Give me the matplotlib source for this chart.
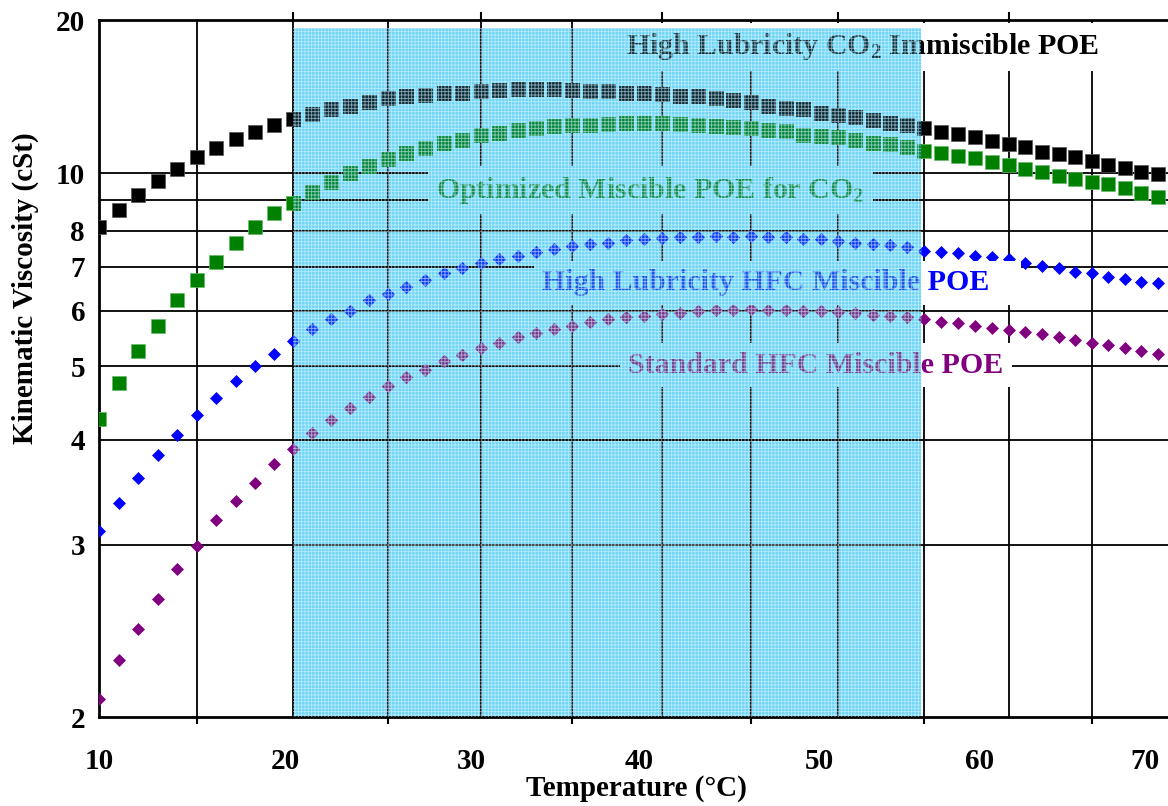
import numpy as np
import matplotlib
matplotlib.use("Agg")
import matplotlib.pyplot as plt

# temperatures (deg C), one reading per degree
temps = list(range(10, 70))

# kinematic viscosity (cSt)
co2_immiscible = [8.1, 8.65, 9.19, 9.72, 10.19, 10.71, 11.12, 11.56, 11.9, 12.27,
                  12.6, 12.87, 13.16, 13.34, 13.58, 13.78, 13.9, 14.0, 14.13, 14.13,
                  14.27, 14.33, 14.4, 14.4, 14.4, 14.33, 14.27, 14.27, 14.13, 14.13,
                  14.07, 13.95, 13.9, 13.78, 13.67, 13.55, 13.34, 13.2, 13.16, 12.92,
                  12.82, 12.71, 12.54, 12.38, 12.27, 12.11, 11.9, 11.8, 11.66, 11.46,
                  11.31, 11.17, 10.93, 10.84, 10.71, 10.54, 10.37, 10.24, 10.06, 9.98]
co2_miscible = [4.26, 4.74, 5.25, 5.71, 6.22, 6.67, 7.13, 7.65, 8.1, 8.55,
                8.9, 9.3, 9.68, 10.02, 10.32, 10.63, 10.89, 11.12, 11.36, 11.51,
                11.75, 11.85, 12.0, 12.11, 12.22, 12.27, 12.27, 12.33, 12.38, 12.38,
                12.38, 12.33, 12.27, 12.22, 12.16, 12.11, 12.0, 11.95, 11.75, 11.7,
                11.66, 11.51, 11.36, 11.31, 11.17, 10.97, 10.89, 10.76, 10.67, 10.5,
                10.37, 10.19, 10.06, 9.91, 9.79, 9.68, 9.57, 9.42, 9.26, 9.11]
hfc_high_lub = [3.11, 3.35, 3.59, 3.83, 4.06, 4.3, 4.53, 4.77, 5.0, 5.21,
                5.43, 5.65, 5.84, 6.0, 6.22, 6.37, 6.52, 6.69, 6.86, 6.98,
                7.1, 7.21, 7.29, 7.39, 7.47, 7.56, 7.62, 7.65, 7.71, 7.74,
                7.79, 7.82, 7.82, 7.85, 7.82, 7.85, 7.82, 7.8, 7.76, 7.74,
                7.68, 7.65, 7.62, 7.59, 7.53, 7.42, 7.39, 7.37, 7.29, 7.26,
                7.21, 7.1, 7.02, 6.98, 6.88, 6.86, 6.76, 6.71, 6.64, 6.6]
hfc_standard = [2.08, 2.27, 2.44, 2.62, 2.82, 2.99, 3.2, 3.37, 3.54, 3.73,
                3.9, 4.08, 4.24, 4.4, 4.54, 4.7, 4.83, 4.95, 5.08, 5.19,
                5.31, 5.4, 5.5, 5.58, 5.65, 5.71, 5.79, 5.83, 5.88, 5.9,
                5.94, 5.96, 6.0, 6.02, 6.02, 6.04, 6.02, 6.02, 6.0, 6.0,
                5.98, 5.96, 5.92, 5.9, 5.87, 5.83, 5.79, 5.77, 5.71, 5.67,
                5.63, 5.6, 5.56, 5.5, 5.45, 5.4, 5.35, 5.31, 5.25, 5.21]

y_ticks = [2, 3, 4, 5, 6, 7, 8, 10, 20]
y_grid = [3, 4, 5, 6, 7, 8, 9, 10]
x_grid = [15, 20, 25, 30, 35, 40, 45, 50, 55, 60, 65]
x_labels = ["10", "20", "30", "40", "50", "60", "70"]
x_label_pos = [10, 19.6, 29.5, 38.7, 48.9, 58.3, 68.2]
shade_range = (20, 54.8)
shade_cyan = '#6ed4f5'

plt.rcParams['font.family'] = 'Liberation Serif'
plt.rcParams['font.weight'] = 'bold'
plt.rcParams['mathtext.fontset'] = 'custom'
plt.rcParams['mathtext.rm'] = 'Liberation Serif:bold'
plt.rcParams['mathtext.bf'] = 'Liberation Serif:bold'
plt.rcParams['mathtext.it'] = 'Liberation Serif:bold:italic'
plt.rcParams['hatch.linewidth'] = 0.6


# ASTM D341 style axes: log of absolute temperature, log-log viscosity
def temp_fwd(t):
    return np.log10(np.asarray(t, dtype=float) + 273.15)


def temp_inv(x):
    return 10 ** np.asarray(x, dtype=float) - 273.15


def visc_fwd(v):
    v = np.maximum(np.asarray(v, dtype=float) + 0.7, 1.0001)
    return np.log10(np.log10(v))


def visc_inv(z):
    return 10 ** (10 ** np.asarray(z, dtype=float)) - 0.7


fig = plt.figure(figsize=(11.68, 8.06), dpi=100)
ax = fig.add_axes([0.08476, 0.11042, 0.92038, 0.86476])
ax.set_xscale('function', functions=(temp_fwd, temp_inv))
ax.set_yscale('function', functions=(visc_fwd, visc_inv))
ax.set_xlim(10, 70)
ax.set_ylim(2, 20)

# cyan window behind everything; artists inside it are redrawn tinted
shade = ax.axvspan(*shade_range, 0, 0.9885, facecolor=shade_cyan, lw=0, zorder=0.5)

for t in x_grid:
    ax.axvline(t, color='black', lw=1.3, zorder=1)
for v in y_grid:
    ax.axhline(v, color='black', lw=1.3, zorder=1)
for t in [20, 30, 40, 50, 60]:
    ax.axvline(t, 1.0, 1.01, color='black', lw=1.5, clip_on=False)

series = [
    (co2_immiscible, 's', 10, 'black', '#555555', '#062a38'),
    (co2_miscible, 's', 10, '#008000', '#66bb66', '#00843c'),
    (hfc_high_lub, 'D', 5.8, '#0000ff', '#0000ff', '#0a3cf0'),
    (hfc_standard, 'D', 5.8, '#800080', '#800080', '#6e3a8c'),
]
for vals, mk, ms, col, edge, tint in series:
    ax.plot(temps, vals, ls='none', marker=mk, ms=ms, color=col, mec=edge,
            mew=0.5, zorder=3)
    dup, = ax.plot(temps, vals, ls='none', marker=mk, ms=ms, color=tint, mec=tint,
                   mew=0.5, zorder=3.5)
    dup.set_clip_path(shade)

labels = [
    (0.7107, 0.9613, r"High Lubricity CO$_2$ Immiscible POE", 'black', '#0a3240'),
    (0.5126, 0.7561, r"Optimized Miscible POE for CO$_2$", '#008040', '#0a8a4a'),
    (0.6310, 0.6227, "High Lubricity HFC Miscible POE   ", '#0000ff', '#1450e6'),
    (0.667, 0.505, "Standard HFC Miscible POE", '#800080', '#6a3c8e'),
]
for lx, ly, txt, col, tint in labels:
    ax.text(lx, ly, txt, transform=ax.transAxes, ha='center', va='center',
            fontsize=21.5, color=col, zorder=5,
            bbox=dict(facecolor='white', edgecolor='none', pad=6))
    dup = ax.text(lx, ly, txt, transform=ax.transAxes, ha='center', va='center',
                  fontsize=21.5, color=tint, zorder=6,
                  bbox=dict(facecolor=shade_cyan, edgecolor='none', pad=6))
    dup.set_clip_path(shade)
    dup.set_clip_on(True)

# graph-paper texture over the window
ax.axvspan(*shade_range, 0, 0.9885, facecolor='none', edgecolor='#e6f9ff',
           hatch='+++++', lw=0, alpha=0.6, zorder=11)

ax.set_yticks(y_ticks, labels=[str(v) for v in y_ticks])
ax.yaxis.set_minor_locator(matplotlib.ticker.NullLocator())
ax.tick_params(axis='y', length=0, pad=10, labelsize=21)

ax.set_xticks(x_label_pos, labels=x_labels)
ax.set_xticks([15, 25, 35, 45, 55, 65], minor=True)
ax.tick_params(axis='x', which='minor', length=5, width=1.5, direction='out')
ax.xaxis.set_tick_params(which='major', length=0, pad=22, labelsize=21)

for side in ['left', 'top', 'bottom']:
    ax.spines[side].set_linewidth(2)
ax.spines['right'].set_visible(False)

ax.set_xlabel("Temperature (°C)", fontsize=21, fontweight='bold', labelpad=0)
fig.text(0.0214, 0.6427, "Kinematic Viscosity (cSt)", rotation=90, ha='center',
         va='center', fontsize=21, fontweight='bold')

fig.savefig("out.png", dpi=100)
